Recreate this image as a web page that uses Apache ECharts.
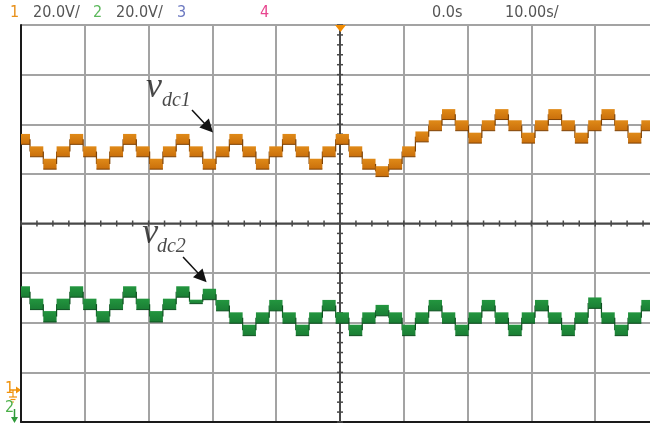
<!DOCTYPE html>
<html>
<head>
<meta charset="utf-8">
<script src="https://cdn.jsdelivr.net/npm/echarts@6/dist/echarts.min.js"></script>
<style>
  html, body { margin: 0; padding: 0; background: #fff; }
  #scope { width: 650px; height: 424px; }
</style>
</head>
<body>
<div id="scope"></div>
<script>
// ---- Scope set-up ----
const timeMin = -50, timeMax = 50, timePerDiv = 10;   // s
const divMin = -4, divMax = 4;                          // vertical divisions
const ch1Range = [-14, 146];                            // V (20 V/div, ground 0.7 div above bottom)
const ch2Range = [51, 211];                             // V (20 V/div, ground below screen)

// ---- Staircase timing ----
const plateauStart = -50.67;   // s, first plateau on screen
const plateauLength = 2.083;   // s

// ---- Plateau levels (V) ----
const vdc1Levels = [
  100, 95, 90, 95,  100, 95, 90, 95,  100, 95, 90, 95,
  100, 95, 90, 95,  100, 95, 90, 95,  100, 95, 90, 95,
  100, 95, 90, 87,  90, 95, 101, 105.5,
  110, 105.5, 100.5, 105.5,  110, 105.5, 100.5, 105.5,
  110, 105.5, 100.5, 105.5,  110, 105.5, 100.5, 105.5,
  110
];
const vdc2Levels = [
  103.5, 98.5, 93.5, 98.5,  103.5, 98.5, 93.5, 98.5,
  103.5, 98.5, 93.5, 98.5,  103.5, 99.5, 102.5, 98,
  93, 88, 93, 98,  93, 88, 93, 98,
  93, 88, 93, 96,  93, 88, 93, 98,
  93, 88, 93, 98,  93, 88, 93, 98,
  93, 88, 93, 99,  93, 88, 93, 98,
  93
];
// ripple half-height (V) on each plateau
const vdc1Ripple = 2.1;
const vdc2Ripple = 2.2;
const vdc2QuietPlateaus = { 13: 0.8 };

// ---- Annotations (s, V) ----
const vdc1Label = [-30.4, 120.6], vdc1Sub = [-27.9, 115.4];
const vdc1Arrow = [[-23.2, 111.7], [-20.6, 104.6]];
const vdc2Label = [-31.0, 126.8], vdc2Sub = [-28.7, 121.5];
const vdc2Arrow = [[-24.6, 117.5], [-21.6, 109.2]];

// ---- Header ----
const ch1Scale = '20.0V/', ch2Scale = '20.0V/';
const timeRef = '0.0s', timeScale = '10.00s/';

function plateaus(levels, ripple, overrides) {
  return levels.map((v, i) => [
    plateauStart + i * plateauLength,
    plateauStart + (i + 1) * plateauLength,
    v,
    i < levels.length - 1 ? levels[i + 1] : v,
    (overrides && overrides[i] !== undefined) ? overrides[i] : ripple
  ]);
}

function bandFill(top, bottom) {
  return new echarts.graphic.LinearGradient(0, 0, 0, 1, [
    { offset: 0, color: top }, { offset: 1, color: bottom }
  ]);
}

function stairSeries(name, data, yIdx, fillTop, fillBottom, edge) {
  const fill = bandFill(fillTop, fillBottom);
  return {
    type: 'custom', name, yAxisIndex: yIdx, z: 5, silent: true,
    data,
    encode: { x: [0, 1], y: [2] },
    renderItem(params, api) {
      const t0 = Math.max(api.value(0), timeMin);
      const t1raw = api.value(1);
      const t1 = Math.min(t1raw, timeMax);
      if (t1 <= t0) return;
      const v = api.value(2), vn = api.value(3), r = api.value(4);
      const a = api.coord([t0, v + r]);
      const b = api.coord([t1, v - r]);
      const children = [
        { type: 'rect', shape: { x: a[0], y: a[1], width: b[0] - a[0], height: b[1] - a[1] },
          style: { fill: fill } },
        { type: 'line', shape: { x1: a[0], y1: b[1], x2: b[0], y2: b[1] },
          style: { stroke: edge, lineWidth: 1 } }
      ];
      if (t1raw <= timeMax && vn !== v) {
        const p = api.coord([t1raw, v]);
        const q = api.coord([t1raw, vn]);
        children.push({ type: 'line', shape: { x1: p[0], y1: p[1], x2: q[0], y2: q[1] },
          style: { stroke: edge, lineWidth: 1.2 } });
      }
      return { type: 'group', children };
    }
  };
}

// graticule centre lines with their minor ticks
const graticule = [[0, 0, 2], [0, 0, 3]];
for (let t = timeMin; t <= timeMax; t += 2.5) graticule.push([t, 0, 0]);
for (let k = divMin * 5; k <= divMax * 5; k++) graticule.push([0, k / 5, 1]);

const centreColor = '#484848';
const graticuleSeries = {
  type: 'custom', yAxisIndex: 0, z: 3, silent: true, data: graticule,
  encode: { x: 0, y: 1 },
  renderItem(params, api) {
    const kind = api.value(2);
    const style = { stroke: centreColor, lineWidth: 1.5 };
    if (kind === 2) {
      const a = api.coord([timeMin, 0]), b = api.coord([timeMax, 0]);
      return { type: 'line', shape: { x1: a[0], y1: a[1], x2: b[0], y2: b[1] }, style: { stroke: centreColor, lineWidth: 2 } };
    }
    if (kind === 3) {
      const a = api.coord([0, divMin]), b = api.coord([0, divMax]);
      return { type: 'line', shape: { x1: a[0], y1: a[1], x2: b[0], y2: b[1] }, style: { stroke: centreColor, lineWidth: 2 } };
    }
    const p = api.coord([api.value(0), api.value(1)]);
    if (kind === 0) return { type: 'line', shape: { x1: p[0], y1: p[1] - 3, x2: p[0], y2: p[1] + 3 }, style };
    return { type: 'line', shape: { x1: p[0] - 3, y1: p[1], x2: p[0] + 3, y2: p[1] }, style };
  }
};

const serif = "'Liberation Serif','DejaVu Serif',serif";
function annotation(yIdx, label, sub, subText, arrow) {
  return {
    type: 'scatter', yAxisIndex: yIdx, z: 6, silent: true,
    symbolSize: 1, itemStyle: { color: 'rgba(0,0,0,0)' },
    label: { show: true, position: 'inside', align: 'left', verticalAlign: 'middle',
      fontFamily: serif, fontStyle: 'italic', color: '#1a1a1a' },
    data: [
      { value: label, label: { formatter: 'v', fontSize: 36 } },
      { value: sub, label: { formatter: subText, fontSize: 20 } }
    ],
    markLine: {
      silent: true, animation: false,
      symbol: ['none', 'triangle'], symbolSize: 13,
      lineStyle: { color: '#111', width: 1.5, type: 'solid' },
      itemStyle: { color: '#111' },
      label: { show: false },
      data: [[{ coord: arrow[0] }, { coord: arrow[1] }]]
    }
  };
}

const narrow = "'Liberation Sans Narrow','DejaVu Sans Condensed','Liberation Sans',sans-serif";
function hdr(x, text, color) {
  return { type: 'text', left: x, top: 5, silent: true,
    style: { text, fill: color, font: '16px ' + narrow } };
}

const chart = echarts.init(document.getElementById('scope'));
chart.setOption({
  animation: false,
  backgroundColor: '#ffffff',
  grid: { left: 21, top: 25, right: -9, bottom: 2, containLabel: false, outerBoundsMode: 'none' },
  xAxis: [{
    type: 'value', min: timeMin, max: timeMax, interval: timePerDiv,
    axisLine: { show: true, onZero: false, lineStyle: { color: '#1a1a1a', width: 2 } },
    axisTick: { show: false }, axisLabel: { show: false },
    splitLine: { show: true, lineStyle: { color: '#a3a3a3', width: 2 } }
  }],
  yAxis: [
    { type: 'value', min: divMin, max: divMax, interval: 1,
      axisLine: { show: true, onZero: false, lineStyle: { color: '#1a1a1a', width: 2 } },
      axisTick: { show: false }, axisLabel: { show: false },
      splitLine: { show: true, lineStyle: { color: '#a3a3a3', width: 2 } } },
    { type: 'value', min: ch1Range[0], max: ch1Range[1], show: false, splitLine: { show: false } },
    { type: 'value', min: ch2Range[0], max: ch2Range[1], show: false, splitLine: { show: false } }
  ],
  series: [
    graticuleSeries,
    stairSeries('vdc1', plateaus(vdc1Levels, vdc1Ripple), 1, '#e08a18', '#c96f0b', '#7e4205'),
    stairSeries('vdc2', plateaus(vdc2Levels, vdc2Ripple, vdc2QuietPlateaus), 2, '#23963f', '#1a7d34', '#0d4f1f'),
    annotation(1, vdc1Label, vdc1Sub, 'dc1', vdc1Arrow),
    annotation(2, vdc2Label, vdc2Sub, 'dc2', vdc2Arrow)
  ],
  graphic: [
    hdr(10, '1', '#e8901a'),
    hdr(33, ch1Scale, '#555555'),
    hdr(93, '2', '#5cb85c'),
    hdr(116, ch2Scale, '#555555'),
    hdr(177, '3', '#6b78c0'),
    hdr(260, '4', '#e8458f'),
    hdr(432, timeRef, '#555555'),
    hdr(505, timeScale, '#555555'),
    // trigger position marker
    { type: 'polygon', silent: true, z: 10,
      shape: { points: [[335, 25], [346, 25], [340.5, 32]] }, style: { fill: '#f08a00' } },
    // channel 1 ground reference
    { type: 'text', left: 5, top: 381, silent: true,
      style: { text: '1', fill: '#f0920a', font: '16px ' + narrow } },
    { type: 'line', silent: true, shape: { x1: 10, y1: 390, x2: 17, y2: 390 }, style: { stroke: '#f0920a', lineWidth: 1.5 } },
    { type: 'polygon', silent: true, shape: { points: [[16, 386.5], [21, 390], [16, 393.5]] }, style: { fill: '#f0920a' } },
    { type: 'line', silent: true, shape: { x1: 13, y1: 390, x2: 13, y2: 397 }, style: { stroke: '#f0920a', lineWidth: 1.2 } },
    { type: 'line', silent: true, shape: { x1: 9, y1: 397, x2: 17, y2: 397 }, style: { stroke: '#f0920a', lineWidth: 1.2 } },
    { type: 'line', silent: true, shape: { x1: 10.5, y1: 399.5, x2: 15.5, y2: 399.5 }, style: { stroke: '#f0920a', lineWidth: 1.2 } },
    { type: 'line', silent: true, shape: { x1: 12, y1: 402, x2: 14, y2: 402 }, style: { stroke: '#f0920a', lineWidth: 1.2 } },
    // channel 2 ground reference (below screen)
    { type: 'text', left: 5, top: 400, silent: true,
      style: { text: '2', fill: '#4db04a', font: '16px ' + narrow } },
    { type: 'line', silent: true, shape: { x1: 14.5, y1: 409, x2: 14.5, y2: 418 }, style: { stroke: '#2f9a3a', lineWidth: 1.5 } },
    { type: 'polygon', silent: true, shape: { points: [[11, 417], [18, 417], [14.5, 423]] }, style: { fill: '#2f9a3a' } }
  ]
});
</script>
</body>
</html>
